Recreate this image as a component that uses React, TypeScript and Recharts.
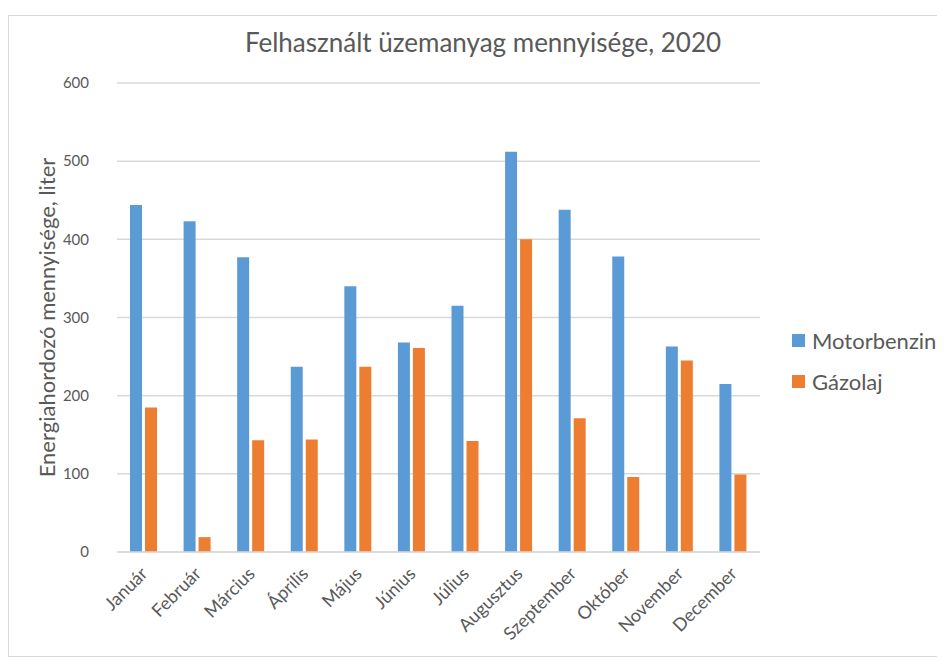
import React from "react";
import { BarChart, Bar, XAxis, YAxis, CartesianGrid, Legend } from "recharts";

const months = [
  "Január", "Február", "Március", "Április", "Május", "Június",
  "Július", "Augusztus", "Szeptember", "Október", "November", "December",
];
const motorbenzin = [444, 423, 377, 237, 340, 268, 315, 512, 438, 378, 263, 215];
const gazolaj = [185, 19, 143, 144, 237, 261, 142, 400, 171, 96, 245, 99];
const yTicks = [0, 100, 200, 300, 400, 500, 600];

const data = months.map((m, i) => ({
  month: m,
  Motorbenzin: motorbenzin[i],
  "Gázolaj": gazolaj[i],
}));

const FONT = "Lato, 'Open Sans', sans-serif";
const TEXT = "#595959";
const BLUE = "#5B9BD5";
const ORANGE = "#ED7D31";

const MonthTick = ({ x, y, payload }) => (
  <text
    x={x}
    y={y + 10}
    transform={`rotate(-45 ${x} ${y + 10})`}
    textAnchor="end"
    dominantBaseline="central"
    fill={TEXT}
    fontSize={18}
    fontFamily={FONT}
  >
    {payload.value}
  </text>
);

const LegendBox = () => (
  <div style={{ fontFamily: FONT, color: TEXT, fontSize: 22 }}>
    {[
      ["Motorbenzin", BLUE],
      ["Gázolaj", ORANGE],
    ].map(([name, c]) => (
      <div key={name} style={{ display: "flex", alignItems: "center", height: 41 }}>
        <span style={{ width: 13, height: 13, background: c, marginRight: 7 }} />
        {name}
      </div>
    ))}
  </div>
);

export default function App() {
  return (
    <div style={{ position: "relative", width: 929, height: 650 }}>
      <div
        style={{
          position: "absolute",
          left: 0,
          top: 7,
          width: 940,
          height: 640,
          border: "1px solid #d9d9d9",
        }}
      />
      <div
        style={{
          position: "absolute",
          left: 0,
          top: 18,
          width: 950,
          textAlign: "center",
          fontFamily: FONT,
          fontSize: 26,
          color: TEXT,
        }}
      >
        Felhasznált üzemanyag mennyisége, 2020
      </div>
      <div style={{ position: "absolute", left: 0, top: 0 }}>
        <BarChart
          width={930}
          height={652}
          data={data}
          margin={{ top: 75, right: 178, left: 5, bottom: 18 }}
          barCategoryGap="25%"
          barGap={3}
        >
          <CartesianGrid vertical={false} stroke="#d9d9d9" strokeWidth={1.5} />
          <XAxis
            dataKey="month"
            interval={0}
            height={90}
            tickLine={false}
            axisLine={{ stroke: "#d9d9d9", strokeWidth: 1.5 }}
            tick={<MonthTick />}
          />
          <YAxis
            width={104}
            domain={[0, 600]}
            ticks={yTicks}
            tickLine={false}
            axisLine={false}
            tickSize={0}
            tickMargin={28}
            tick={{ fill: TEXT, fontSize: 15, fontFamily: FONT }}
            label={{
              value: "Energiahordozó mennyisége, liter",
              angle: -90,
              position: "insideLeft",
              offset: 34,
              style: { textAnchor: "middle", fill: TEXT, fontSize: 22, fontFamily: FONT },
            }}
          />
          <Legend
            layout="horizontal"
            verticalAlign="middle"
            align="center"
            content={<LegendBox />}
            wrapperStyle={{ left: 784, top: 312, width: 160 }}
          />
          <Bar dataKey="Motorbenzin" fill={BLUE} barSize={12} isAnimationActive={false} />
          <Bar dataKey="Gázolaj" fill={ORANGE} barSize={12} isAnimationActive={false} />
        </BarChart>
      </div>
    </div>
  );
}
